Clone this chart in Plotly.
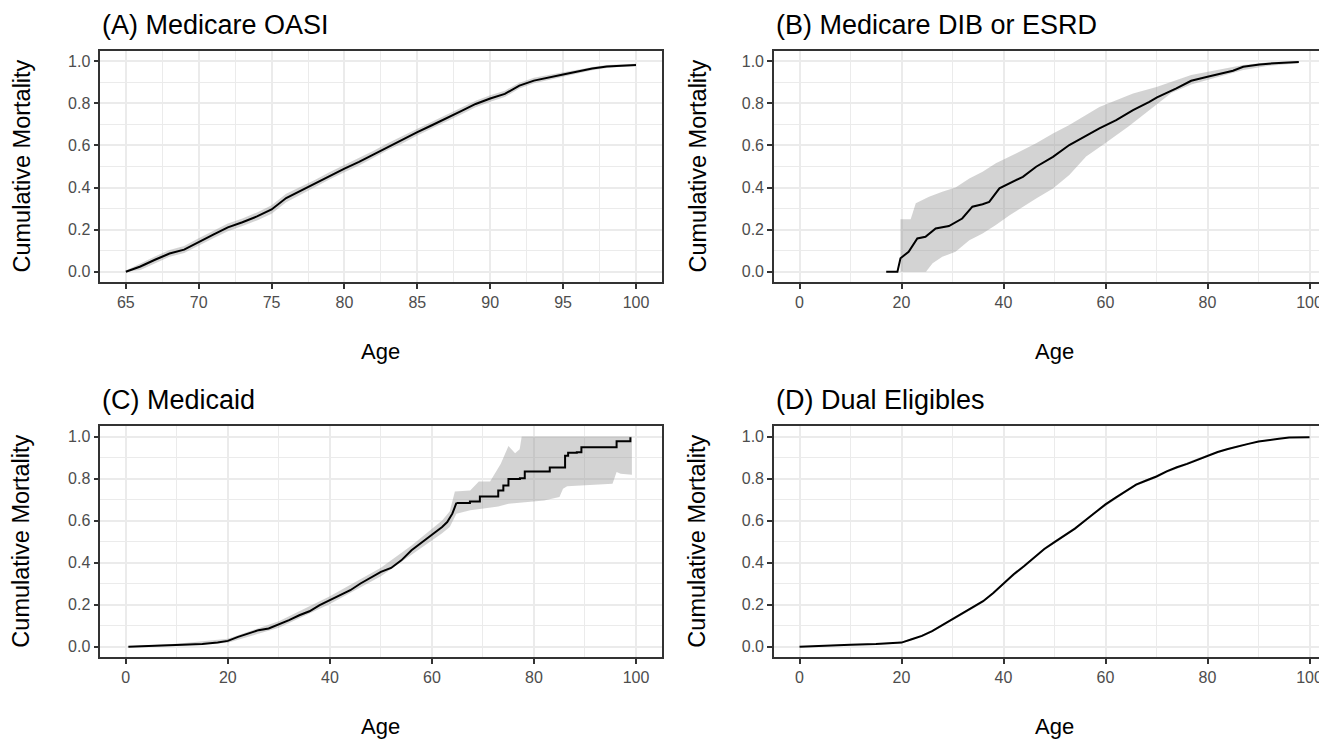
import plotly.graph_objects as go

# ---------------- Data ----------------
# (A) Medicare OASI
ages_a = [65, 66, 67, 68, 69, 70, 71, 72, 73, 74, 75, 76, 77, 78, 79, 80, 81, 82, 83, 84,
          85, 86, 87, 88, 89, 90, 91, 92, 93, 94, 95, 96, 97, 98, 99, 100]
mort_a = [0.0, 0.025, 0.057, 0.087, 0.105, 0.142, 0.176, 0.211, 0.235, 0.263, 0.296, 0.35,
          0.385, 0.42, 0.457, 0.49, 0.522, 0.558, 0.595, 0.627, 0.663, 0.696, 0.731, 0.763,
          0.797, 0.823, 0.845, 0.884, 0.908, 0.924, 0.937, 0.951, 0.965, 0.975, 0.98, 0.982]
lo_a = [0.0, 0.009, 0.041, 0.071, 0.089, 0.125, 0.159, 0.193, 0.217, 0.244, 0.276, 0.33,
        0.366, 0.403, 0.44, 0.473, 0.505, 0.541, 0.578, 0.61, 0.647, 0.68, 0.715, 0.747,
        0.782, 0.808, 0.83, 0.87, 0.895, 0.912, 0.926, 0.942, 0.957, 0.968, 0.974, 0.976]
hi_a = [0.006, 0.041, 0.073, 0.103, 0.122, 0.159, 0.193, 0.229, 0.253, 0.282, 0.316, 0.37,
        0.404, 0.437, 0.474, 0.507, 0.539, 0.575, 0.612, 0.644, 0.679, 0.712, 0.747, 0.779,
        0.812, 0.838, 0.86, 0.898, 0.921, 0.936, 0.948, 0.96, 0.973, 0.982, 0.986, 0.988]

# (B) Medicare DIB or ESRD
ages_b = [17, 19.2, 19.8, 21.4, 23.1, 24.7, 26.7, 29.3, 31.9, 33.9, 35.9, 37.2, 39.2, 41.2,
          43.8, 46.4, 49.7, 52.9, 56, 58.8, 62.1, 65.4, 68.6, 70.1, 73.9, 76.8, 80, 85, 87,
          90.2, 94, 97.9]
mort_b = [0.0, 0.0, 0.064, 0.095, 0.158, 0.166, 0.206, 0.217, 0.253, 0.309, 0.321, 0.332,
          0.396, 0.42, 0.451, 0.499, 0.546, 0.602, 0.645, 0.681, 0.72, 0.768, 0.807, 0.828,
          0.871, 0.907, 0.926, 0.955, 0.974, 0.985, 0.992, 0.996]
band_hi_ages_b = [19.8, 21.8, 22.8, 25.4, 28, 30.6, 33.3, 35.9, 38.5, 41.2, 43.8, 46.4, 49.7,
                  52.9, 58.8, 65.4, 70, 76.8, 80, 87, 92, 97.9]
hi_b = [0.25, 0.25, 0.325, 0.356, 0.38, 0.4, 0.443, 0.475, 0.515, 0.546, 0.578, 0.61, 0.657,
        0.697, 0.783, 0.847, 0.878, 0.934, 0.95, 0.982, 0.995, 1.0]
band_lo_ages_b = [19.8, 24.8, 26.1, 28, 30.6, 33.3, 35.9, 38.5, 41.2, 43.8, 46.4, 49.7, 52.9,
                  56.2, 60, 64.5, 68.7, 72.9, 76.8, 80, 87, 92, 97.9]
lo_b = [0.0, 0.0, 0.04, 0.071, 0.095, 0.15, 0.182, 0.222, 0.269, 0.309, 0.348, 0.396, 0.46,
        0.548, 0.612, 0.69, 0.77, 0.849, 0.89, 0.91, 0.958, 0.978, 0.99]

# (C) Medicaid
ages_c = [0.5, 5, 10, 15, 18, 20, 22, 24, 26, 28, 30, 32, 34, 36, 38, 40, 42, 44, 46, 48, 50,
          52, 54, 56, 58, 60, 62, 63, 64, 64.8]
mort_c = [0.0, 0.003, 0.008, 0.013, 0.02, 0.028, 0.047, 0.063, 0.079, 0.087, 0.106, 0.127,
          0.15, 0.169, 0.198, 0.222, 0.245, 0.269, 0.301, 0.328, 0.356, 0.375, 0.411, 0.459,
          0.498, 0.533, 0.57, 0.593, 0.633, 0.684]
step_ages_c = [64.8, 67.45, 69.4, 73.0, 74.0, 75.0, 77.25, 78.2, 83.1, 86.1, 86.7, 88.4,
               89.3, 96.2, 98.9]
step_mort_c = [0.684, 0.691, 0.715, 0.743, 0.767, 0.798, 0.801, 0.834, 0.853, 0.909, 0.923,
               0.925, 0.949, 0.977, 0.996]
band_hi_ages_c = [0.5, 10, 20, 30, 40, 50, 56, 60, 62, 63.5, 64.5, 67.5, 69.2, 71.4, 73.5,
                  75, 76.3, 77.2, 77.6, 99.2]
hi_c = [0.003, 0.014, 0.038, 0.122, 0.24, 0.376, 0.482, 0.56, 0.6, 0.645, 0.739, 0.743,
        0.786, 0.786, 0.87, 0.955, 0.92, 0.94, 1.0, 1.0]
band_lo_ages_c = [0.5, 10, 20, 30, 40, 50, 56, 60, 62, 63.5, 64.8, 67.5, 71, 73, 75, 79, 82,
                  85, 85.7, 86.5, 95.4, 96.2, 97, 99.2]
lo_c = [0.0, 0.004, 0.019, 0.091, 0.204, 0.336, 0.436, 0.506, 0.54, 0.57, 0.633, 0.649,
        0.661, 0.667, 0.68, 0.688, 0.696, 0.712, 0.752, 0.764, 0.775, 0.831, 0.823, 0.818]

# (D) Dual Eligibles
ages_d = [0, 5, 10, 15, 20, 22, 24, 26, 28, 30, 32, 34, 36, 38, 40, 42, 44, 46, 48, 50, 52,
          54, 56, 58, 60, 62, 64, 66, 68, 70, 72, 74, 76, 78, 80, 82, 84, 86, 88, 90, 92, 94,
          96, 98, 100]
mort_d = [0.0, 0.006, 0.01, 0.013, 0.02, 0.036, 0.052, 0.074, 0.103, 0.13, 0.158, 0.187,
          0.217, 0.256, 0.301, 0.345, 0.383, 0.424, 0.465, 0.498, 0.53, 0.562, 0.601, 0.641,
          0.677, 0.709, 0.741, 0.771, 0.791, 0.81, 0.834, 0.854, 0.87, 0.889, 0.91, 0.926,
          0.941, 0.954, 0.965, 0.976, 0.984, 0.989, 0.995, 0.997, 0.997]
lo_d = [0.0, 0.004, 0.007, 0.01, 0.016, 0.031, 0.047, 0.069, 0.097, 0.124, 0.152, 0.181,
        0.211, 0.25, 0.295, 0.339, 0.377, 0.418, 0.459, 0.492, 0.524, 0.556, 0.595, 0.635,
        0.671, 0.703, 0.735, 0.765, 0.785, 0.804, 0.828, 0.849, 0.865, 0.884, 0.905, 0.922,
        0.937, 0.95, 0.962, 0.973, 0.981, 0.987, 0.993, 0.995, 0.995]
hi_d = [0.001, 0.008, 0.013, 0.016, 0.024, 0.041, 0.057, 0.079, 0.109, 0.136, 0.164, 0.193,
        0.223, 0.262, 0.307, 0.351, 0.389, 0.43, 0.471, 0.504, 0.536, 0.568, 0.607, 0.647,
        0.683, 0.715, 0.747, 0.777, 0.797, 0.816, 0.84, 0.859, 0.875, 0.894, 0.915, 0.93,
        0.945, 0.958, 0.968, 0.979, 0.987, 0.991, 0.997, 0.999, 0.999]

titles = ["(A) Medicare OASI", "(B) Medicare DIB or ESRD", "(C) Medicaid", "(D) Dual Eligibles"]
x_title = "Age"
y_title = "Cumulative Mortality"
y_ticks = [0.0, 0.2, 0.4, 0.6, 0.8, 1.0]
y_ticklabels = ["0.0", "0.2", "0.4", "0.6", "0.8", "1.0"]

# ---------------- Figure ----------------
# The page body adds an 8px margin, so the figure is made 8px smaller and every
# screen position below is shifted by that offset.
OFF = 8
W, H = 1327 - OFF, 741 - OFF
FONT = "Liberation Sans, Arial, sans-serif"
BAND = "rgba(150,150,150,0.42)"
LINE = dict(color="black", width=2)


def px(x):
    return (x - OFF) / W


def py(y):
    return 1 - (y - OFF) / H


fig = go.Figure()


def band(xs_hi, ys_hi, xs_lo, ys_lo, ax):
    fig.add_trace(go.Scatter(
        x=list(xs_hi) + list(xs_lo)[::-1], y=list(ys_hi) + list(ys_lo)[::-1],
        fill="toself", fillcolor=BAND, line=dict(width=0), mode="lines",
        hoverinfo="skip", showlegend=False, xaxis="x" + ax, yaxis="y" + ax))


def line(xs, ys, ax, shape="linear"):
    fig.add_trace(go.Scatter(x=xs, y=ys, mode="lines", line=dict(shape=shape, **LINE),
                             showlegend=False, xaxis="x" + ax, yaxis="y" + ax))


band(ages_a, hi_a, ages_a, lo_a, "")
line(ages_a, mort_a, "")
band(band_hi_ages_b, hi_b, band_lo_ages_b, lo_b, "2")
line(ages_b, mort_b, "2")
band(band_hi_ages_c, hi_c, band_lo_ages_c, lo_c, "3")
line(ages_c, mort_c, "3")
line(step_ages_c, step_mort_c, "3", shape="hv")
band(ages_d, hi_d, ages_d, lo_d, "4")
line(ages_d, mort_d, "4")

col1 = [px(100.3), px(661.5)]
col2 = [px(774.0), 1.0]
row1 = [py(282.3), py(50.7)]
row2 = [py(657.3), py(426.0)]

common = dict(showline=True, linecolor="#333333", linewidth=1.6, ticks="outside",
              ticklen=5, tickwidth=1.5, tickcolor="#333333", showgrid=True,
              gridcolor="#EBEBEB", gridwidth=1.8, zeroline=False,
              tickfont=dict(family=FONT, size=16, color="#4D4D4D"))


def xax(domain, rng, dtick, anchor, mirror=True):
    return dict(common, domain=domain, range=rng, dtick=dtick, tick0=0, anchor=anchor,
                mirror=mirror,
                minor=dict(showgrid=True, gridcolor="#EBEBEB", gridwidth=1.0,
                           dtick=dtick / 2, tick0=0, ticks=""))


def yax(domain, anchor, mirror=True):
    return dict(common, domain=domain, range=[-0.05, 1.05], tickvals=y_ticks,
                ticktext=y_ticklabels, anchor=anchor, mirror=mirror,
                minor=dict(showgrid=True, gridcolor="#EBEBEB", gridwidth=1.0,
                           dtick=0.1, tick0=0, ticks=""))


# right edge of panels B/D lies at the window edge (the reference crops them there)
b_right = -5 + (1327 - 774.0) / 5.1

fig.update_layout(
    width=W, height=H, autosize=False,
    margin=dict(l=0, r=0, t=0, b=0),
    paper_bgcolor="white", plot_bgcolor="white",
    font=dict(family=FONT),
    xaxis=xax(col1, [63.25, 101.75], 5, "y"),
    yaxis=yax(row1, "x"),
    xaxis2=xax(col2, [-5, b_right], 20, "y2"),
    yaxis2=yax(row1, "x2", mirror=False),
    xaxis3=xax(col1, [-5, 105], 20, "y3"),
    yaxis3=yax(row2, "x3"),
    xaxis4=xax(col2, [-5, b_right], 20, "y4"),
    yaxis4=yax(row2, "x4", mirror=False),
)

ann = []
title_pos = [(px(100), py(25.5)), (px(773.5), py(25.5)),
             (px(100), py(399.5)), (px(773.5), py(399.5))]
for t, (x, y) in zip(titles, title_pos):
    ann.append(dict(text=t, x=x, y=y, xref="paper", yref="paper", xanchor="left",
                    yanchor="middle", showarrow=False,
                    font=dict(family=FONT, size=27, color="black")))
for x, row in [(px(21), row1), (px(697), row1), (px(21), row2), (px(697), row2)]:
    ann.append(dict(text=y_title, x=x, y=(row[0] + row[1]) / 2, xref="paper", yref="paper",
                    xanchor="center", yanchor="middle", textangle=-90, showarrow=False,
                    font=dict(family=FONT, size=23.5, color="black")))
for x, y in [(px(380.9), py(351)), (px(1054.5), py(351)),
             (px(380.9), py(726)), (px(1054.5), py(726))]:
    ann.append(dict(text=x_title, x=x, y=y, xref="paper", yref="paper", xanchor="center",
                    yanchor="middle", showarrow=False,
                    font=dict(family=FONT, size=22, color="black")))
fig.update_layout(annotations=ann)

fig.write_html("out.html")
